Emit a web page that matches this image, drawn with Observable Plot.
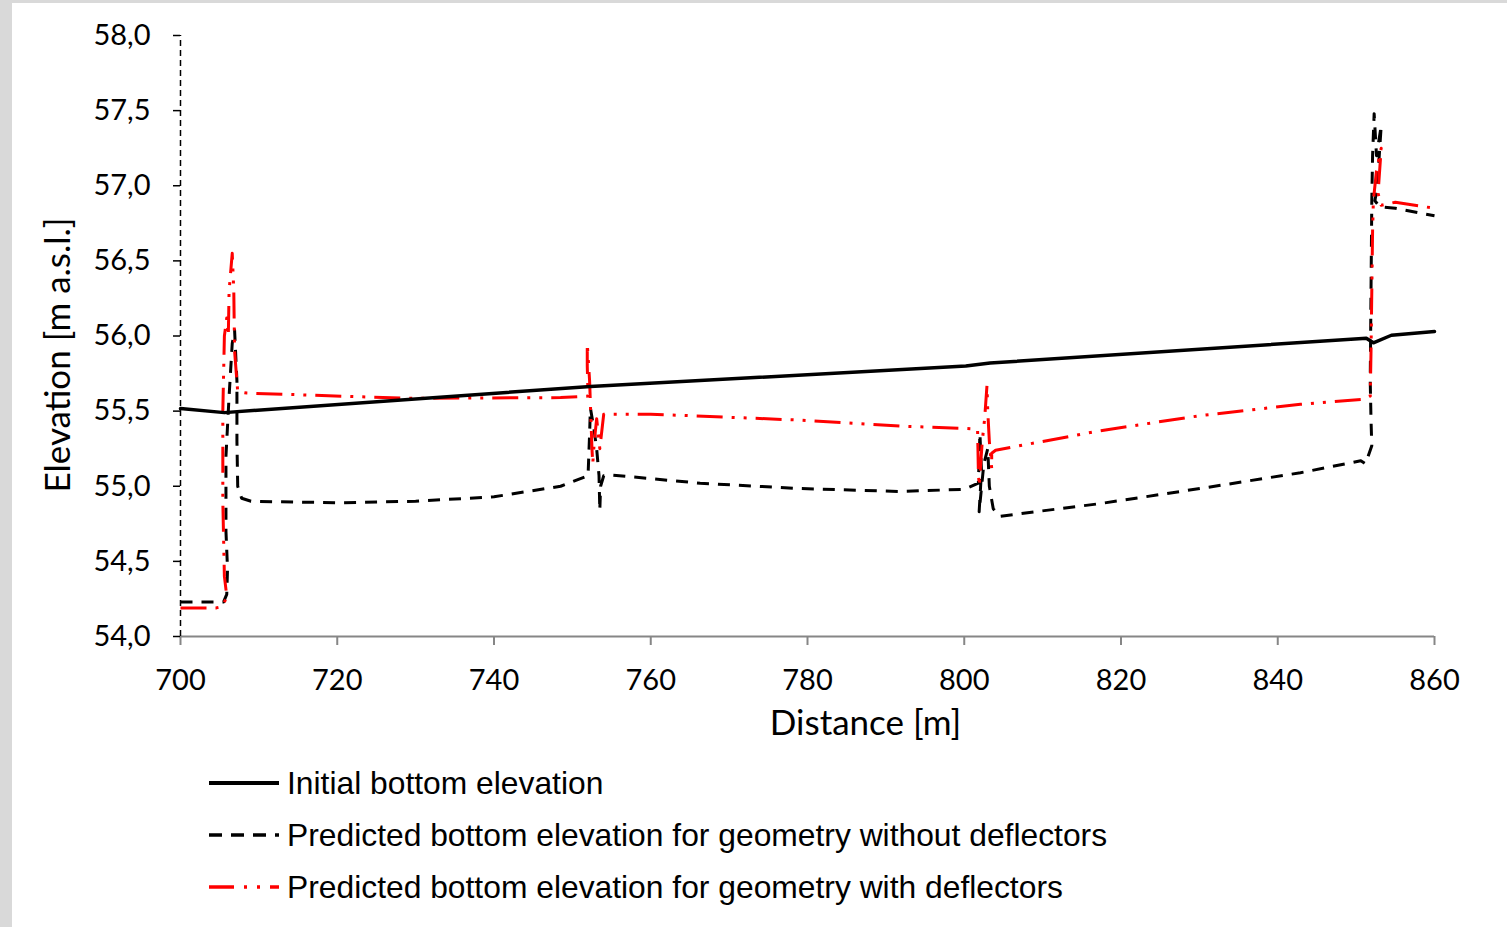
<!DOCTYPE html>
<html>
<head>
<meta charset="utf-8">
<script src="https://cdn.jsdelivr.net/npm/d3@7"></script>
<script src="https://cdn.jsdelivr.net/npm/@observablehq/plot@0.6"></script>
<style>
  html, body { margin: 0; padding: 0; background: #d9d9d9; width: 1507px; height: 927px; overflow: hidden; }
  #card { position: absolute; left: 12px; top: 3px; width: 1495px; height: 924px; background: #fff; }
  #legend { position: absolute; left: 197px; top: 754px; font-family: "Liberation Sans", Arial, sans-serif; font-size: 31.8px; color: #000; }
  .row { display: flex; align-items: center; height: 52px; }
  .row svg { margin-right: 8px; }
</style>
</head>
<body>
<div id="card"><div id="chart"></div><div id="legend"></div></div>
<script>
// ---- data ----
const initialDist = [700, 705.6, 752.3, 800.2, 803.3, 851.3, 852.2, 854.5, 860];
const initialElev = [55.517, 55.49, 55.664, 55.80, 55.82, 55.985, 55.955, 56.005, 56.03];

const noDefDist = [700, 705.5, 705.9, 706.0, 705.8, 705.8, 706.2, 706.6, 706.9, 707.2, 707.2, 707.3, 707.8, 709, 720, 730, 740, 748.5, 752.0,
  752.2, 752.3, 752.7, 753.1, 753.4, 753.5, 753.6, 754.0, 755, 766.3, 779, 791.9, 800,
  800.5, 801.8, 802.0, 802.2, 801.9, 802.5, 803.0, 803.2, 803.7, 804.5, 817.4, 830.1, 842.9, 850.6,
  851.2, 852.0, 851.9, 851.8, 851.9, 852.0, 852.1, 852.3, 852.6, 852.9, 853.2, 852.7, 852.4, 853.0, 855, 860];
const noDefElev = [54.23, 54.23, 54.28, 54.45, 54.7, 55.2, 55.6, 55.95, 56.04, 55.7, 55.3, 55.0, 54.92, 54.9, 54.89, 54.9, 54.93, 55.0, 55.07,
  55.35, 55.52, 55.4, 55.25, 55.07, 54.84, 55.0, 55.07, 55.075, 55.02, 54.985, 54.965, 54.98,
  54.99, 55.02, 55.35, 55.1, 54.83, 55.15, 55.25, 55.0, 54.85, 54.80, 54.885, 54.985, 55.09, 55.17,
  55.15, 55.27, 55.44, 55.7, 56.3, 56.9, 57.2, 57.48, 57.2, 57.3, 57.4, 57.0, 56.9, 56.86, 56.85, 56.8];

const withDefDist = [700, 704.5, 705.4, 705.9, 705.6, 705.4, 705.4, 705.6, 705.9, 706.1, 706.2, 706.6, 706.8, 706.9, 707.3, 708.5, 729.3, 748.5, 752.0,
  751.9, 751.9, 752.2, 752.4, 752.5, 752.6, 752.8, 753.1, 753.5, 754, 760, 779.1, 791.9, 800.2,
  801.7, 801.8, 801.9, 802.3, 802.6, 802.9, 803.0, 803.2, 803.5, 803.5, 804, 817.4, 830.1, 842.9, 851.2,
  851.8, 851.9, 852.1, 852.2, 852.6, 853.2, 852.8, 853.2, 855, 860];
const withDefElev = [54.19, 54.19, 54.2, 54.27, 54.4, 54.9, 55.5, 56.0, 56.12, 56.0, 56.3, 56.55, 56.3, 55.9, 55.63, 55.62, 55.585, 55.59, 55.6,
  55.8, 55.95, 55.7, 55.4, 55.25, 55.15, 55.3, 55.45, 55.25, 55.48, 55.48, 55.44, 55.40, 55.385,
  55.38, 55.1, 55.0, 55.3, 55.45, 55.67, 55.5, 55.3, 55.12, 55.22, 55.24, 55.37, 55.47, 55.545, 55.58,
  55.6, 55.9, 56.7, 56.9, 57.1, 57.25, 56.95, 56.87, 56.89, 56.85];

const xTicks = [700, 720, 740, 760, 780, 800, 820, 840, 860];
const yTicks = [54.0, 54.5, 55.0, 55.5, 56.0, 56.5, 57.0, 57.5, 58.0];

const seriesNames = [
  "Initial bottom elevation",
  "Predicted bottom elevation for geometry without deflectors",
  "Predicted bottom elevation for geometry with deflectors"
];

const toRows = (ds, es) => ds.map((d, i) => ({d, e: es[i]}));
const initial = toRows(initialDist, initialElev);
const noDef = toRows(noDefDist, noDefElev);
const withDef = toRows(withDefDist, withDefElev);

const fmt = v => v.toFixed(1).replace(".", ",");

const styles = [
  {stroke: "#000", strokeWidth: 3.5, strokeDasharray: null},
  {stroke: "#000", strokeWidth: 3, strokeDasharray: "12,9"},
  {stroke: "#ff0000", strokeWidth: 3, strokeDasharray: "26,9,3,9,3,9"}
];

const chart = Plot.plot({
  width: 1495,
  height: 760,
  marginLeft: 168,
  marginRight: 73,
  marginTop: 32,
  marginBottom: 127,
  style: {fontFamily: "Lato, 'Open Sans', sans-serif", fontSize: "29px", background: "transparent", color: "#000"},
  x: {domain: [700, 860]},
  y: {domain: [54, 58]},
  marks: [
    Plot.ruleY([54], {stroke: "#868686", strokeWidth: 2}),
    Plot.ruleX([700], {y1: 54, y2: 58, stroke: "#000", strokeWidth: 1.5, strokeDasharray: "6,4"}),
    Plot.axisX({ticks: xTicks, tickSize: 9, tickPadding: 24, tickFormat: d => String(d), stroke: "#868686", strokeWidth: 2, fill: "#000", label: null, fontSize: 29}),
    Plot.axisY({ticks: yTicks, tickSize: 7, tickPadding: 23, tickFormat: fmt, stroke: "#000", strokeWidth: 1.5, fill: "#000", label: null, fontSize: 29}),
    Plot.line(noDef, {x: "d", y: "e", ...styles[1], strokeLinejoin: "round", strokeLinecap: "butt"}),
    Plot.line(withDef, {x: "d", y: "e", ...styles[2], strokeLinejoin: "round", strokeLinecap: "butt"}),
    Plot.line(initial, {x: "d", y: "e", ...styles[0], strokeLinejoin: "round"}),
    Plot.text(["Distance [m]"], {frameAnchor: "bottom", textAnchor: "middle", lineAnchor: "middle", dx: 58, dy: 87, fontSize: 35, fill: "#000"}),
    Plot.text(["Elevation [m a.s.l.]"], {frameAnchor: "left", textAnchor: "middle", lineAnchor: "middle", rotate: -90, dx: -122, dy: 19, fontSize: 35, fill: "#000"})
  ]
});
document.getElementById("chart").appendChild(chart);

// ---- legend ----
const legend = document.getElementById("legend");
seriesNames.forEach((name, i) => {
  const row = document.createElement("div");
  row.className = "row";
  const s = styles[i];
  const dash = i === 0 ? "" : (i === 1 ? ' stroke-dasharray="13,9"' : ' stroke-dasharray="25,10,3,10,3,10"');
  row.innerHTML = `<svg width="70" height="52"><line x1="0" x2="70" y1="26" y2="26" stroke="${s.stroke}" stroke-width="${i === 0 ? 4 : 3.5}"${dash}/></svg><span>${name}</span>`;
  legend.appendChild(row);
});
</script>
</body>
</html>
